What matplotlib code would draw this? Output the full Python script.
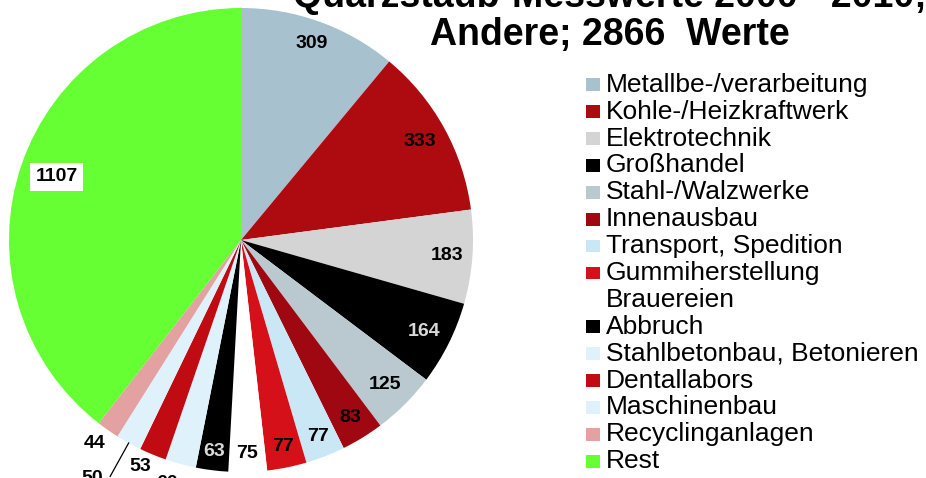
import numpy as np
import matplotlib
matplotlib.use('Agg')
import matplotlib.pyplot as plt
from matplotlib.patches import Rectangle

# Daten (gelesen aus der Vorlage)
branchen = ['Metallbe-/verarbeitung', 'Kohle-/Heizkraftwerk', 'Elektrotechnik',
            'Großhandel', 'Stahl-/Walzwerke', 'Innenausbau', 'Transport, Spedition',
            'Gummiherstellung', 'Brauereien', 'Abbruch', 'Stahlbetonbau, Betonieren',
            'Dentallabors', 'Maschinenbau', 'Recyclinganlagen', 'Rest']
werte = [309, 333, 183, 164, 125, 83, 77, 77, 75, 63, 60, 53, 50, 44, 1107]
farben = ['#A8C1CE', '#AE0B10', '#D4D4D4', '#000000', '#BAC8CF', '#A00811', '#C9E7F5',
          '#D51018', '#FFFFFF', '#000000', '#DFF1FA', '#C00B12', '#DFF1FA', '#E3A1A1',
          '#66FF33']
titel1 = 'Quarzstaub-Messwerte 2000 - 2010;'
titel2 = 'Andere; 2866  Werte'

plt.rcParams['font.family'] = ['Liberation Sans', 'DejaVu Sans']

W, H = 926, 478
fig = plt.figure(figsize=(W / 100, H / 100), dpi=100)

# Kreisdiagramm: Mittelpunkt (241, 240) px, Radius 232 px
cx, cy, R = 241, 240, 232
ax = fig.add_axes([(cx - R) / W, (H - cy - R) / H, 2 * R / W, 2 * R / H])

ax.pie(werte, colors=farben, startangle=90, counterclock=False, radius=1,
       wedgeprops=dict(linewidth=0))
ax.set_xlim(-1, 1)
ax.set_ylim(-1, 1)
ax.set_aspect('equal')
ax.axis('off')

# Beschriftungen
kum = np.cumsum(werte)
mitte = 90 - (kum - np.array(werte) / 2) / kum[-1] * 360
radien = [0.90, 0.88, 0.89, 0.88, 0.88, 0.90, 0.91, 0.91, 0.92, 0.92,
          1.095, 1.07, 1.21, 1.08, 0.84]
versatz = [0, 0, 0, 0, 0, 0, 0, 0, 0, 0, -1.8, -1.7, -3.0, -0.7, 0]
for i, (w, a, r) in enumerate(zip(werte, mitte, radien)):
    phi = np.deg2rad(a + versatz[i])
    farbe = '#D9D9D9' if farben[i] == '#000000' else 'black'
    box = dict(facecolor='white', edgecolor='none', pad=4) if branchen[i] == 'Rest' else None
    ax.text(r * np.cos(phi), r * np.sin(phi), str(w), ha='center', va='center',
            fontsize=14, fontweight='bold', color=farbe, bbox=box)

# Führungslinie für Maschinenbau
phi = np.deg2rad(mitte[12])
ax.plot([np.cos(phi), 1.165 * np.cos(phi)], [np.sin(phi), 1.165 * np.sin(phi)],
        color='black', linewidth=0.9, clip_on=False)

# Titel (obere Zeile ist im Original angeschnitten)
fig.text(610 / W, 1 - 7 / H, titel1, ha='center', va='baseline', fontsize=27,
         fontweight='bold')
fig.text(610 / W, 1 - 45 / H, titel2, ha='center', va='baseline', fontsize=27,
         fontweight='bold')

# Legende (manuell)
for i, (name, f) in enumerate(zip(branchen, farben)):
    base = 91.7 + 26.9 * i
    fig.patches.append(Rectangle((586 / W, 1 - (base - 0.7) / H), 14 / W, 12.7 / H,
                                 transform=fig.transFigure, facecolor=f,
                                 edgecolor='none'))
    fig.text(606 / W, 1 - base / H, name, ha='left', va='baseline', fontsize=19)

fig.savefig('out.png', dpi=100, facecolor='white')
